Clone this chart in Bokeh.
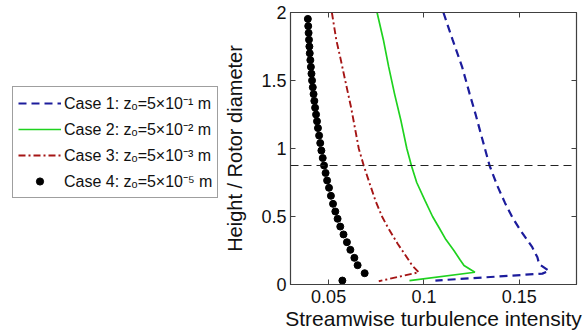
from bokeh.plotting import figure
from bokeh.models import Legend, LegendItem, Span, Range1d, LinearAxis, FixedTicker, ColumnDataSource
from bokeh.layouts import row
from bokeh.embed import file_html
from bokeh.resources import INLINE

# ---- data ----
case1_x = [0.1102, 0.1150, 0.1200, 0.1240, 0.1270, 0.1300, 0.1344, 0.1384, 0.1425, 0.1463, 0.1505, 0.1568, 0.1595, 0.1604, 0.1656, 0.1621, 0.1060]
case1_y = [2.0, 1.8, 1.6, 1.4, 1.255, 1.1, 0.875, 0.728, 0.6, 0.495, 0.4, 0.274, 0.2, 0.15, 0.1, 0.08, 0.029]

case2_x = [0.0754, 0.0787, 0.0815, 0.0846, 0.0880, 0.0910, 0.0934, 0.0962, 0.1005, 0.1045, 0.1078, 0.1115, 0.1157, 0.1190, 0.1210, 0.1267, 0.0924]
case2_y = [2.0, 1.8, 1.6, 1.4, 1.2, 1.0, 0.875, 0.75, 0.618, 0.5, 0.421, 0.33, 0.25, 0.18, 0.14, 0.09, 0.029]

case3_x = [0.0517, 0.0540, 0.0561, 0.0587, 0.0618, 0.0638, 0.0658, 0.0684, 0.0710, 0.0745, 0.0780, 0.0810, 0.0862, 0.0910, 0.0938, 0.0973, 0.0763]
case3_y = [2.0, 1.8, 1.67, 1.5, 1.3, 1.15, 1.0, 0.875, 0.765, 0.618, 0.5, 0.421, 0.3, 0.2, 0.14, 0.09, 0.024]

case4_y = [1.953, 1.9, 1.85, 1.8, 1.75, 1.7, 1.65, 1.6, 1.55, 1.5, 1.45, 1.4, 1.35, 1.3, 1.25, 1.2,
           1.15, 1.095, 1.04, 0.985, 0.93, 0.875, 0.82, 0.765, 0.711, 0.652, 0.593, 0.537, 0.483,
           0.426, 0.368, 0.311, 0.255, 0.196, 0.142, 0.083, 0.029]
case4_x = [0.0391, 0.0393, 0.0395, 0.0397, 0.0399, 0.0401, 0.0404, 0.0407, 0.0410, 0.0413, 0.0417,
           0.0421, 0.0425, 0.0429, 0.0434, 0.0439, 0.0444, 0.0450, 0.0456, 0.0462, 0.0469, 0.0476,
           0.0484, 0.0492, 0.0502, 0.0512, 0.0523, 0.0535, 0.0547, 0.0561, 0.0578, 0.0596, 0.0614,
           0.0635, 0.0652, 0.0689, 0.0572]

hub_height = 0.875
x_ticks = [0.05, 0.1, 0.15]
y_ticks = [0, 0.5, 1, 1.5, 2]
labels = ["Case 1: z\u2092=5\u00d710\u207b\u00b9 m",
          "Case 2: z\u2092=5\u00d710\u207b\u00b2 m",
          "Case 3: z\u2092=5\u00d710\u207b\u00b3 m",
          "Case 4: z\u2092=5\u00d710\u207b\u2075 m"]

FONT = "Liberation Sans"
C_BLUE = "#1c1c9c"
C_GREEN = "#1fd21f"
C_RED = "#a51515"
C_AX = "#404040"

# ---- main plot ----
p = figure(width=364, height=334, output_backend="svg", toolbar_location=None,
           x_range=Range1d(0.03, 0.18), y_range=Range1d(0, 2),
           min_border_left=68, min_border_right=9, min_border_top=12, min_border_bottom=50)
p.xgrid.visible = False
p.ygrid.visible = False
p.outline_line_color = C_AX
p.outline_line_width = 1.2
p.background_fill_color = "white"
p.border_fill_color = "white"

for ax in (p.xaxis[0], p.yaxis[0]):
    ax.major_tick_in = 5
    ax.major_tick_out = 0
    ax.minor_tick_in = 0
    ax.minor_tick_out = 0
    ax.axis_line_color = C_AX
    ax.major_tick_line_color = C_AX
    ax.major_label_text_font = FONT
    ax.major_label_text_font_size = "18px"
    ax.major_label_text_color = "#111111"
    ax.axis_label_text_font = FONT
    ax.axis_label_text_font_style = "normal"
    ax.axis_label_text_color = "#111111"

p.xaxis[0].ticker = FixedTicker(ticks=x_ticks)
p.yaxis[0].ticker = FixedTicker(ticks=y_ticks)
p.xaxis[0].major_label_overrides = {0.05: "0.05", 0.1: "0.1", 0.15: "0.15"}
p.yaxis[0].major_label_overrides = {0: "0", 0.5: "0.5", 1: "1", 1.5: "1.5", 2: "2"}
p.xaxis[0].axis_label = "Streamwise turbulence intensity"
p.xaxis[0].axis_label_text_font_size = "21px"
p.xaxis[0].axis_label_standoff = 1
p.xaxis[0].major_label_standoff = 5
p.yaxis[0].axis_label = "Height / Rotor diameter"
p.yaxis[0].axis_label_text_font_size = "20px"
p.yaxis[0].axis_label_standoff = 12
p.yaxis[0].major_label_standoff = 4

top_ax = LinearAxis(ticker=FixedTicker(ticks=x_ticks),
                    major_label_overrides={t: "" for t in x_ticks},
                    major_tick_in=5, major_tick_out=0, minor_tick_in=0, minor_tick_out=0,
                    axis_line_color=C_AX, major_tick_line_color=C_AX, major_label_standoff=0)
right_ax = LinearAxis(ticker=FixedTicker(ticks=y_ticks),
                      major_label_overrides={t: "" for t in y_ticks},
                      major_tick_in=5, major_tick_out=0, minor_tick_in=0, minor_tick_out=0,
                      axis_line_color=C_AX, major_tick_line_color=C_AX, major_label_standoff=0)
p.add_layout(top_ax, "above")
p.add_layout(right_ax, "right")

r1 = p.line(case1_x, case1_y, line_color=C_BLUE, line_width=2.2, line_dash="8 5")
r2 = p.line(case2_x, case2_y, line_color=C_GREEN, line_width=1.7)
r3 = p.line(case3_x, case3_y, line_color=C_RED, line_width=1.9, line_dash="7 3 2 3")
r4 = p.scatter(case4_x, case4_y, size=7, marker="circle", fill_color="black", line_color="black")

p.add_layout(Span(location=hub_height, dimension="width", line_color="#222222",
                  line_width=1.2, line_dash="8 5"))

# ---- legend panel ----
lp = figure(width=221, height=334, output_backend="svg", toolbar_location=None,
            x_range=Range1d(0, 1), y_range=Range1d(0, 1),
            min_border=0, min_border_left=0, min_border_right=0, min_border_top=12, min_border_bottom=50)
lp.axis.visible = False
lp.xgrid.visible = False
lp.ygrid.visible = False
lp.outline_line_color = None
lp.background_fill_color = "white"
lp.border_fill_color = "white"

off = dict(x=[-5, -6], y=[-5, -6])
l1 = lp.line("x", "y", source=ColumnDataSource(off), line_color=C_BLUE, line_width=2.2, line_dash="8 5")
l2 = lp.line("x", "y", source=ColumnDataSource(off), line_color=C_GREEN, line_width=1.7)
l3 = lp.line("x", "y", source=ColumnDataSource(off), line_color=C_RED, line_width=1.9, line_dash="7 3 2 3")
l4 = lp.scatter("x", "y", source=ColumnDataSource(off), size=6, marker="circle",
                fill_color="black", line_color="black")

legend = Legend(items=[LegendItem(label=labels[0], renderers=[l1]),
                       LegendItem(label=labels[1], renderers=[l2]),
                       LegendItem(label=labels[2], renderers=[l3]),
                       LegendItem(label=labels[3], renderers=[l4])],
                location=(12, 86), orientation="vertical",
                label_text_font=FONT, label_text_font_size="16px", label_text_color="#111111",
                glyph_width=43, glyph_height=18, label_height=18, label_standoff=3,
                spacing=4, padding=5, margin=0,
                border_line_color=C_AX, border_line_width=1.5,
                background_fill_color="white", background_fill_alpha=1.0)
lp.add_layout(legend, "center")

layout = row(lp, p)
open("out.html", "w").write(file_html(layout, INLINE))
